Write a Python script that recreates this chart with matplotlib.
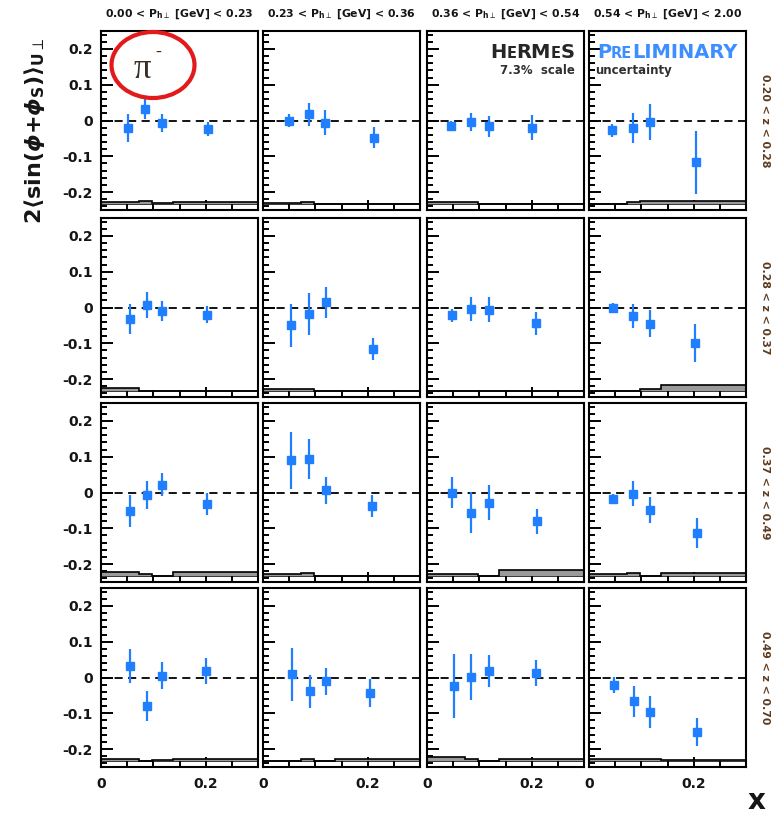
import matplotlib
matplotlib.use("Agg")
import matplotlib.pyplot as plt
from matplotlib.patches import Ellipse
from matplotlib.ticker import FixedLocator, MultipleLocator, FixedFormatter
from matplotlib.transforms import offset_copy

plt.rcParams['font.family'] = ['DejaVu Sans']
plt.rcParams['mathtext.fontset'] = 'custom'
plt.rcParams['mathtext.rm'] = 'DejaVu Sans:bold'
plt.rcParams['mathtext.it'] = 'DejaVu Sans:bold:italic'
plt.rcParams['mathtext.bf'] = 'DejaVu Sans:bold'
plt.rcParams['mathtext.sf'] = 'DejaVu Sans:bold'

# ---- bin labels -------------------------------------------------------
pt_bins = [r"0.00 < P$_{\rm h\perp}$ [GeV] < 0.23",
           r"0.23 < P$_{\rm h\perp}$ [GeV] < 0.36",
           r"0.36 < P$_{\rm h\perp}$ [GeV] < 0.54",
           r"0.54 < P$_{\rm h\perp}$ [GeV] < 2.00"]
z_bins = ["0.20 < z < 0.28", "0.28 < z < 0.37",
          "0.37 < z < 0.49", "0.49 < z < 0.70"]

y_ticks = [-0.2, -0.1, 0.0, 0.1, 0.2]
y_tick_labels = ["-0.2", "-0.1", "0", "0.1", "0.2"]
x_ticks = [0.0, 0.2]
x_tick_labels = ["0", "0.2"]

# x-bin edges of the systematic band
x_edges = [0.0, 0.072, 0.098, 0.138, 0.3]

# rows: z bins, columns: P_h-perp bins, 4 x points each
x_mean = [
    [[0.052, 0.085, 0.116, 0.204], [0.050, 0.087, 0.119, 0.212],
     [0.045, 0.084, 0.118, 0.201], [0.043, 0.085, 0.117, 0.205]],
    [[0.055, 0.087, 0.117, 0.203], [0.053, 0.087, 0.120, 0.211],
     [0.048, 0.084, 0.118, 0.208], [0.045, 0.085, 0.117, 0.203]],
    [[0.055, 0.087, 0.117, 0.202], [0.053, 0.087, 0.120, 0.208],
     [0.048, 0.084, 0.118, 0.210], [0.046, 0.085, 0.117, 0.207]],
    [[0.056, 0.087, 0.117, 0.200], [0.055, 0.089, 0.121, 0.204],
     [0.052, 0.084, 0.118, 0.208], [0.047, 0.086, 0.117, 0.206]],
]
asym = [
    [[-0.022, 0.033, -0.008, -0.024], [0.000, 0.017, -0.006, -0.048],
     [-0.016, -0.004, -0.016, -0.020], [-0.027, -0.022, -0.004, -0.117]],
    [[-0.032, 0.007, -0.011, -0.020], [-0.050, -0.018, 0.014, -0.117],
     [-0.022, -0.004, -0.006, -0.044], [-0.002, -0.023, -0.045, -0.099]],
    [[-0.051, -0.007, 0.022, -0.032], [0.090, 0.094, 0.006, -0.038],
     [0.000, -0.056, -0.029, -0.081], [-0.019, -0.003, -0.049, -0.114]],
    [[0.032, -0.079, 0.005, 0.019], [0.009, -0.039, -0.011, -0.044],
     [-0.023, 0.002, 0.019, 0.012], [-0.021, -0.067, -0.097, -0.153]],
]
stat_err = [
    [[0.039, 0.030, 0.025, 0.020], [0.019, 0.032, 0.035, 0.029],
     [0.014, 0.024, 0.029, 0.035], [0.018, 0.042, 0.051, 0.089]],
    [[0.042, 0.037, 0.028, 0.024], [0.061, 0.059, 0.044, 0.031],
     [0.019, 0.033, 0.035, 0.032], [0.014, 0.033, 0.038, 0.053]],
    [[0.044, 0.039, 0.033, 0.031], [0.080, 0.056, 0.038, 0.030],
     [0.044, 0.057, 0.049, 0.036], [0.014, 0.036, 0.036, 0.042]],
    [[0.047, 0.042, 0.038, 0.036], [0.074, 0.046, 0.038, 0.039],
     [0.089, 0.064, 0.045, 0.037], [0.023, 0.042, 0.044, 0.039]],
]
sys_band = [
    [[0.005, 0.008, 0.002, 0.004], [0.002, 0.005, 0.001, 0.001],
     [0.005, 0.005, 0.001, 0.001], [0.001, 0.004, 0.008, 0.008]],
    [[0.007, 0.001, 0.001, 0.001], [0.006, 0.006, 0.001, 0.001],
     [0.001, 0.001, 0.001, 0.001], [0.001, 0.001, 0.005, 0.016]],
    [[0.011, 0.004, 0.000, 0.011], [0.005, 0.009, 0.001, 0.001],
     [0.005, 0.005, 0.001, 0.016], [0.005, 0.008, 0.001, 0.007]],
    [[0.004, 0.001, 0.003, 0.005], [0.001, 0.005, 0.001, 0.004],
     [0.010, 0.005, 0.001, 0.005], [0.005, 0.005, 0.005, 0.003]],
]
band_base = -0.233

# ---- figure layout (pixels) --------------------------------------------
FW, FH = 782, 818
fig = plt.figure(figsize=(FW / 100, FH / 100), dpi=100)
col_left = [101, 263, 427, 589]
row_top = [31, 218, 403, 588]
pw, ph = 157, 179

BLUE = '#1f7fff'
INK = '#151515'

axes = {}
for r in range(4):
    for c in range(4):
        ax = fig.add_axes([col_left[c] / FW, 1 - (row_top[r] + ph) / FH,
                           pw / FW, ph / FH])
        axes[r, c] = ax
        ax.set_xlim(0.0, 0.3)
        ax.set_ylim(-0.25, 0.25)
        for sp in ax.spines.values():
            sp.set_linewidth(1.5)
        ax.yaxis.set_major_locator(FixedLocator(y_ticks))
        ax.yaxis.set_minor_locator(MultipleLocator(0.02))
        ax.xaxis.set_major_locator(FixedLocator(x_ticks))
        ax.xaxis.set_minor_locator(MultipleLocator(0.05))
        ax.tick_params(which='both', direction='in', top=False, right=False,
                       width=1.4, color='black', labelcolor=INK)
        ax.tick_params(axis='y', which='major', length=8.6, pad=6)
        ax.tick_params(axis='y', which='minor', length=4.6)
        ax.tick_params(axis='x', which='major', length=7.5, pad=7)
        ax.tick_params(axis='x', which='minor', length=4.4)
        if c == 0:
            ax.yaxis.set_major_formatter(FixedFormatter(y_tick_labels))
            for lab in ax.get_yticklabels():
                lab.set_fontsize(10)
                lab.set_fontweight('bold')
        else:
            ax.tick_params(axis='y', labelleft=False)
        if r == 3:
            ax.xaxis.set_major_formatter(FixedFormatter(x_tick_labels))
            for lab in ax.get_xticklabels():
                lab.set_fontsize(10)
                lab.set_fontweight('bold')
        else:
            ax.tick_params(axis='x', labelbottom=False)

        # zero line
        ax.axhline(0.0, color='black', lw=1.3, dashes=(4.5, 3.0), zorder=1)
        # systematic band
        ax.axhline(band_base, color='black', lw=1.1, zorder=2)
        tops = [band_base + h for h in sys_band[r][c]]
        ax.stairs(tops, x_edges, baseline=band_base, fill=True,
                  color='#9a9a9a', zorder=2)
        ax.stairs(tops, x_edges, baseline=band_base, fill=False,
                  color='black', lw=1.2, zorder=3)
        # asymmetry points
        ax.errorbar(x_mean[r][c], asym[r][c], yerr=stat_err[r][c], fmt='s',
                    color=BLUE, mec=BLUE, mfc=BLUE, ms=5.5, elinewidth=1.6,
                    capsize=0, zorder=4)

# ---- header / side labels ---------------------------------------------
for c in range(4):
    fig.text((col_left[c] + pw / 2) / FW, 1 - 14 / FH, pt_bins[c],
             fontsize=7.8, fontweight='bold', color=INK,
             ha='center', va='center')
for r in range(4):
    fig.text(765 / FW, 1 - (row_top[r] + ph / 2) / FH, z_bins[r],
             rotation=-90, fontsize=7.8, fontweight='bold', color='#5e3b1e',
             ha='center', va='center')

fig.text(35 / FW, 1 - 131 / FH,
         r"2$\langle$sin($\phi$+$\phi_{\rm S}$)$\rangle_{\rm U\perp}$",
         rotation=90, fontsize=16, fontweight='bold', color=INK,
         ha='center', va='center')
fig.text(757 / FW, 1 - 801 / FH, "x", fontsize=20, fontweight='bold',
         color=INK, ha='center', va='center')

# ---- experiment tag with small-caps letters ----------------------------
renderer = fig.canvas.get_renderer()


def small_caps(ax, x, y, pieces, color, ha='left'):
    widths = []
    for s, fs in pieces:
        t = ax.text(0, 0, s, fontsize=fs, fontweight='bold')
        widths.append(t.get_window_extent(renderer).width)
        t.remove()
    dx = -sum(widths) if ha == 'right' else 0.0
    for (s, fs), w in zip(pieces, widths):
        tr = offset_copy(ax.transAxes, fig=fig, x=dx, y=0, units='dots')
        ax.text(x, y, s, fontsize=fs, fontweight='bold', color=color,
                transform=tr, ha='left', va='baseline')
        dx += w


small_caps(axes[0, 2], 0.943, 0.848,
           [("H", 14), ("E", 10.5), ("RM", 14), ("E", 10.5), ("S", 14)],
           '#262626', ha='right')
axes[0, 2].text(0.943, 0.76, "7.3%  scale", fontsize=8.5, fontweight='bold',
                color='#303030', ha='right', va='baseline',
                transform=axes[0, 2].transAxes)
small_caps(axes[0, 3], 0.05, 0.848,
           [("P", 14), ("RE", 10.5), ("LIMINARY", 14)], '#3d8eff')
axes[0, 3].text(0.04, 0.76, "uncertainty", fontsize=8.5, fontweight='bold',
                color='#303030', ha='left', va='baseline',
                transform=axes[0, 3].transAxes)

# ---- particle label --------------------------------------------------
fig.text(142 / FW, 1 - 70 / FH, "π", fontsize=25,
         family=['Liberation Serif', 'DejaVu Serif'], color='#3a2e24',
         ha='center', va='center')
fig.text(158 / FW, 1 - 52 / FH, "-", fontsize=13,
         family=['Liberation Serif', 'DejaVu Serif'], color='#3a2e24',
         ha='center', va='center')
fig.add_artist(Ellipse((153 / FW, 1 - 65 / FH), 83 / FW, 66 / FH,
                       transform=fig.transFigure, fill=False,
                       edgecolor='#e31a1c', lw=3.0))

fig.savefig("out.png", dpi=100)
